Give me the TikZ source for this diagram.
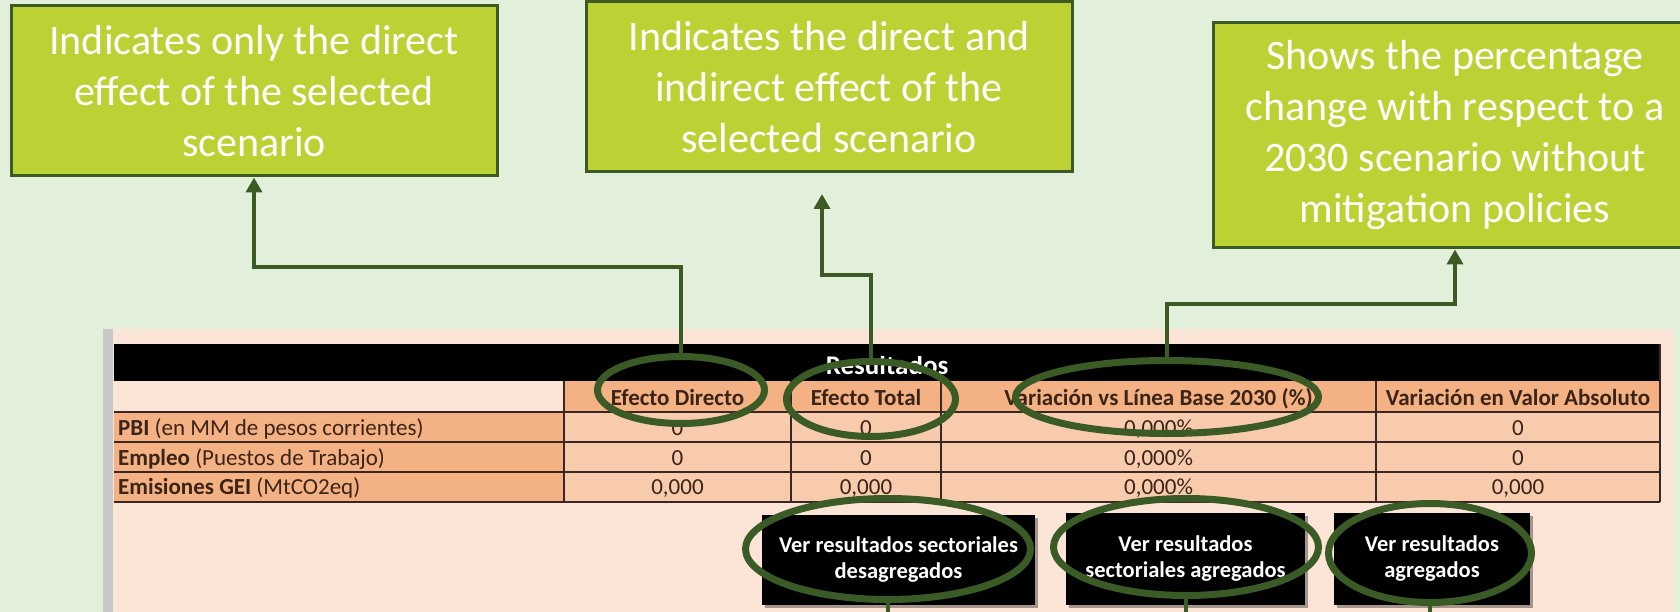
\documentclass[tikz,border=0pt]{standalone}
\usepackage{fontspec}
\setmainfont{Carlito}
\usetikzlibrary{shapes.geometric,arrows.meta,shadows}
\definecolor{bggreen}{HTML}{E2EFDA}
\definecolor{lime}{HTML}{BCD133}
\definecolor{dkgreen}{HTML}{3B5A24}
\definecolor{ringgreen}{HTML}{3A5A26}
\definecolor{peach}{HTML}{FCE4D6}
\definecolor{salmon}{HTML}{F4B183}
\definecolor{lightsalmon}{HTML}{F8CBAD}
\definecolor{celltext}{HTML}{3A2418}
\definecolor{gridline}{HTML}{3A2622}
\definecolor{sidebar}{HTML}{C8C8C8}
\begin{document}
\begin{tikzpicture}[x=1pt,y=-1pt,
  callout/.style={draw=dkgreen, line width=3pt, fill=lime, text=white, align=center, inner sep=0pt, font=\fontsize{42}{51}\selectfont},
  conn/.style={draw=dkgreen, line width=4pt, -{Triangle[width=16pt,length=15pt]}},
  stub/.style={draw=dkgreen, line width=4pt},
  ring/.style={ellipse, draw=ringgreen, line width=7pt, inner sep=0pt},
  btn/.style={fill=black, text=white, align=center, inner sep=0pt, font=\fontsize{22.5}{26}\selectfont\bfseries, drop shadow={shadow xshift=3pt, shadow yshift=-3pt, opacity=0.35, fill=black}},
  hdr/.style={font=\fontsize{23}{27}\selectfont\bfseries, text=celltext, anchor=base, inner sep=0pt},
  val/.style={font=\fontsize{23}{27}\selectfont, text=celltext, anchor=base, inner sep=0pt},
  lbl/.style={font=\fontsize{23}{27}\selectfont, text=celltext, anchor=base west, inner sep=0pt},
  grid/.style={draw=gridline, line width=1.5pt},
]
\fill[bggreen] (0,0) rectangle (1680,612);
\useasboundingbox (0,0) rectangle (1680,612);
% panel
\fill[sidebar] (103,329) rectangle (113,615);
\fill[peach] (113,329) rectangle (1673,615);
% table
\fill[black] (114,344) rectangle (1660,381);
\fill[salmon] (564,381) rectangle (1660,412);
\fill[salmon] (114,412) rectangle (564,502);
\fill[lightsalmon] (564,412) rectangle (1660,502);
\foreach \yy in {412,442,472,502} \draw[grid] (114,\yy) -- (1660,\yy);
\foreach \xx in {564,791,941,1376} \draw[grid] (\xx,381) -- (\xx,502);
\draw[grid] (1660,344) -- (1660,502);
\begin{scope}
\clip (114,356) rectangle (1660,381);
\node[font=\fontsize{27}{30}\selectfont\bfseries, text=white, anchor=base, inner sep=0pt] (title) at (887,374) {Resultados};
\end{scope}
\node[hdr] (h1) at (677.5,405) {Efecto Directo};
\node[hdr] (h2) at (866,405) {Efecto Total};
\node[hdr] (h3) at (1158.5,405) {Variación vs Línea Base 2030 (\%)};
\node[hdr] (h4) at (1518,405) {Variación en Valor Absoluto};
\node[lbl] (l1) at (118,435) {\textbf{PBI} (en MM de pesos corrientes)};
\node[lbl] (l2) at (118,465) {\textbf{Empleo} (Puestos de Trabajo)};
\node[lbl] (l3) at (118,494) {\textbf{Emisiones GEI} (MtCO2eq)};
\node[val] (v11) at (677.5,435) {0};
\node[val] (v12) at (866,435) {0};
\node[val] (v13) at (1158.5,435) {0,000\%};
\node[val] (v14) at (1518,435) {0};
\node[val] (v21) at (677.5,465) {0};
\node[val] (v22) at (866,465) {0};
\node[val] (v23) at (1158.5,465) {0,000\%};
\node[val] (v24) at (1518,465) {0};
\node[val] (v31) at (677.5,494) {0,000};
\node[val] (v32) at (866,494) {0,000};
\node[val] (v33) at (1158.5,494) {0,000\%};
\node[val] (v34) at (1518,494) {0,000};
% buttons
\node[btn, minimum width=273pt, minimum height=90pt] (b1) at (898.5,560) {Ver resultados sectoriales\\desagregados};
\node[btn, minimum width=239pt, minimum height=92pt] (b2) at (1185.5,559) {Ver resultados\\sectoriales agregados};
\node[btn, minimum width=196pt, minimum height=92pt] (b3) at (1432,559) {Ver resultados\\agregados};
% rings
\node[ring, minimum width=167pt, minimum height=67pt] (e1) at (681,390) {};
\node[ring, minimum width=169pt, minimum height=75pt] (e2) at (871,399) {};
\node[ring, minimum width=303pt, minimum height=73pt] (e3) at (1167,397) {};
\node[ring, minimum width=285pt, minimum height=101pt] (r1) at (888,549) {};
\node[ring, minimum width=265pt, minimum height=97pt] (r2) at (1186,547) {};
\node[ring, minimum width=203pt, minimum height=99pt] (r3) at (1430,553) {};
% callouts
\node[callout, minimum width=486pt, minimum height=170pt] (box1) at (254,91) {Indicates only the direct\\effect of the selected\\scenario};
\node[callout, minimum width=486pt, minimum height=170pt] (box2) at (829,87) {Indicates the direct and\\indirect effect of the\\selected scenario};
\node[callout, minimum width=484pt, minimum height=225pt] (box3) at (1455,135.5) {Shows the percentage\\change with respect to a\\2030 scenario without\\mitigation policies};
% connectors
\coordinate (k1) at (254,267);
\coordinate (k2) at (822,275);
\coordinate (t2) at (822,194);
\coordinate (k3) at (1455,304);
\draw[conn] (e1.north) |- (k1) -- (box1.south);
\draw[conn] (e2.north) |- (k2) -- (t2);
\draw[conn] (e3.north) |- (k3) -- (box3.south);
\coordinate (d1) at (888,620);
\coordinate (d2) at (1186,620);
\coordinate (d3) at (1430,620);
\draw[stub] (r1.south) -- (d1);
\draw[stub] (r2.south) -- (d2);
\draw[stub] (r3.south) -- (d3);
\end{tikzpicture}
\end{document}
